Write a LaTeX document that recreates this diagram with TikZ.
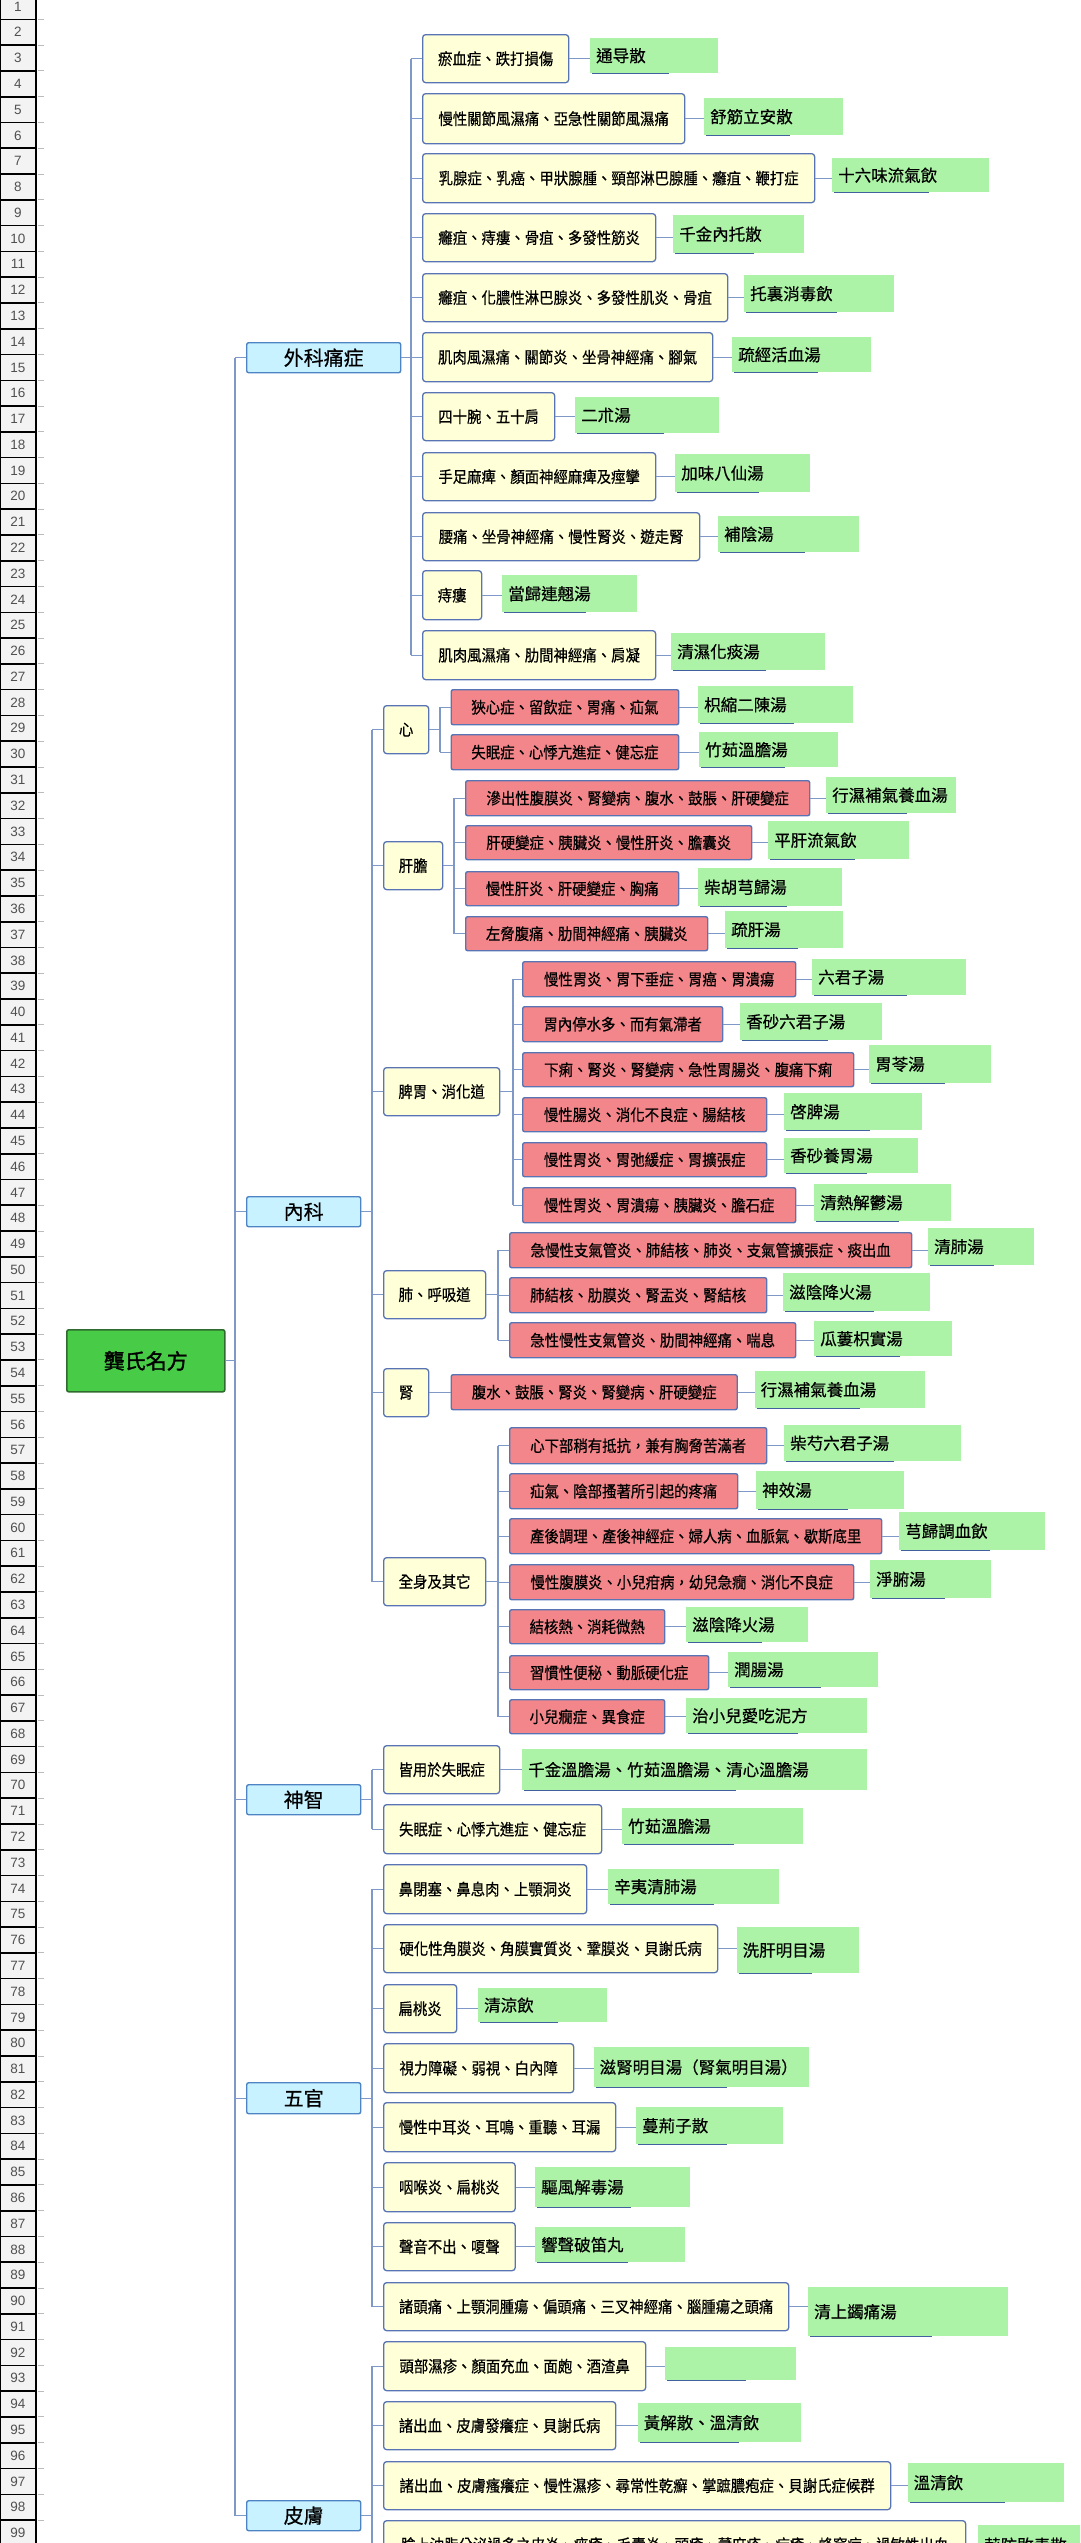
\documentclass[tikz,border=0pt]{standalone}
\usepackage{fontspec}
\newfontfamily\cjk[FakeBold=0.5]{Noto Sans CJK TC}
\newfontfamily\cjkn[FakeStretch=0.9,FakeBold=0.5]{Noto Sans CJK TC}
\newfontfamily\cjkb[FakeBold=1.5]{Noto Sans CJK TC}
\newfontfamily\numf{Liberation Sans}
\definecolor{yfill}{HTML}{FFFFD8}
\definecolor{rfill}{HTML}{F2868A}
\definecolor{gfill}{HTML}{ADF3A7}
\definecolor{catf}{HTML}{C8F2FF}
\definecolor{catb}{HTML}{4F84C4}
\definecolor{bordc}{HTML}{5874B4}
\definecolor{connc}{HTML}{7E98C8}
\definecolor{ulc}{HTML}{41609E}
\definecolor{rootf}{HTML}{48CC48}
\definecolor{rootb}{HTML}{2F6B2F}
\definecolor{rowf}{HTML}{F3F3F3}
\definecolor{numc}{HTML}{505050}
\definecolor{tickc}{HTML}{BBBBBB}
\newcommand\YB[6]{\node[ybox,minimum width=#4pt,minimum height=#5pt] (#1) at (#2,#3) {#6};}
\newcommand\RB[6]{\node[rbox,minimum width=#4pt,minimum height=#5pt] (#1) at (#2,#3) {#6};}
\newcommand\GB[6]{\node[gbox,minimum width=#4pt,minimum height=#5pt] (#1) at (#2,#3) {};
  \node[gtxt] (#1t) at ([xshift=6pt]#1.west) {#6};
  \draw[gline] ([xshift=2pt]#1.south west) -- ([xshift={0.62*#4pt}]#1.south west);}
\begin{document}
\begin{tikzpicture}[x=1pt,y=-1pt,
  conn/.style={draw=connc,line width=1.2pt},
  ybox/.style={anchor=north west,draw=bordc,fill=yfill,line width=1.3pt,rounded corners=3pt,inner sep=0pt,font=\cjkn\fontsize{16}{16}\selectfont},
  rbox/.style={anchor=north west,draw=bordc,fill=rfill,line width=1.4pt,rounded corners=2pt,inner sep=0pt,font=\cjkn\fontsize{16}{16}\selectfont},
  gbox/.style={anchor=north west,fill=gfill,draw=none,inner sep=0pt},
  gtxt/.style={anchor=west,inner sep=0pt,font=\cjk\fontsize{16.5}{16.5}\selectfont},
  gline/.style={draw=ulc,line width=1.2pt},
  cbox/.style={anchor=north west,draw=catb,fill=catf,line width=1.4pt,rounded corners=2pt,inner sep=0pt,font=\cjk\fontsize{20}{20}\selectfont},
  rootbox/.style={anchor=north west,draw=rootb,fill=rootf,line width=1.6pt,rounded corners=2pt,inner sep=0pt,font=\cjkb\fontsize{21}{21}\selectfont},
  rowbox/.style={draw=black,fill=rowf,line width=1.6pt},
  rownum/.style={font=\numf\fontsize{13.5}{13.5}\selectfont,text=numc,inner sep=0pt}]
\useasboundingbox (0,0) rectangle (1080,2543);
\clip (0,0) rectangle (1080,2543);
% row headers
\foreach \k in {1,...,99}{
  \pgfmathsetmacro\cy{6.5+(\k-1)*25.78}
  \draw[rowbox] (0,{\cy-12.89}) rectangle (36,{\cy+12.89});
  \node[rownum] (r\k) at (18,\cy) {\k};
  \draw[tickc,line width=1pt] (38,{\cy+12.89}) -- (44,{\cy+12.89});
}
% root and categories
\node[rootbox,minimum width=158pt,minimum height=62pt] (root) at (66,1329) {龔氏名方};
\node[cbox,minimum width=154pt,minimum height=30pt] (wk) at (246,342) {外科痛症};
\node[cbox,minimum width=114pt,minimum height=30pt] (nk) at (246,1196) {內科};
\node[cbox,minimum width=114pt,minimum height=30pt] (sk) at (246,1784) {神智};
\node[cbox,minimum width=114pt,minimum height=31pt] (fk) at (246,2082) {五官};
\node[cbox,minimum width=114pt,minimum height=30pt] (pk) at (246,2500) {皮膚};
% 外科痛症
\YB{w1}{422}{34}{146}{48}{瘀血症、跌打損傷}
\GB{wg1}{590}{38}{128}{35}{通导散}
\YB{w2}{422}{93}{262}{50}{慢性關節風濕痛、亞急性關節風濕痛}
\GB{wg2}{704}{98}{139}{37}{舒筋立安散}
\YB{w3}{422}{153}{392}{49}{乳腺症、乳癌、甲狀腺腫、頸部淋巴腺腫、癰疽、鞭打症}
\GB{wg3}{832}{158}{157}{34}{十六味流氣飲}
\YB{w4}{422}{213}{233}{48}{癰疽、痔瘻、骨疽、多發性筋炎}
\GB{wg4}{673}{215}{131}{38}{千金內托散}
\YB{w5}{422}{273}{305}{48}{癰疽、化膿性淋巴腺炎、多發性肌炎、骨疽}
\GB{wg5}{744}{275}{150}{37}{托裏消毒飲}
\YB{w6}{422}{332}{290}{49}{肌肉風濕痛、關節炎、坐骨神經痛、腳氣}
\GB{wg6}{732}{337}{139}{35}{疏經活血湯}
\YB{w7}{422}{392}{132}{48}{四十腕、五十肩}
\GB{wg7}{575}{397}{144}{36}{二朮湯}
\YB{w8}{422}{452}{233}{48}{手足麻痺、顏面神經麻痺及痙攣}
\GB{wg8}{675}{454}{135}{38}{加味八仙湯}
\YB{w9}{422}{512}{277}{48}{腰痛、坐骨神經痛、慢性腎炎、遊走腎}
\GB{wg9}{718}{516}{141}{36}{補陰湯}
\YB{w10}{422}{570}{59}{49}{痔瘻}
\GB{wg10}{502}{575}{135}{37}{當歸連翹湯}
\YB{w11}{422}{630}{233}{49}{肌肉風濕痛、肋間神經痛、肩凝}
\GB{wg11}{671}{633}{154}{37}{清濕化痰湯}
% 內科 second level
\YB{n1}{383}{705}{45}{48}{心}
\YB{n2}{383}{841}{59}{48}{肝膽}
\YB{n3}{383}{1067}{116}{48}{脾胃、消化道}
\YB{n4}{383}{1270}{102}{48}{肺、呼吸道}
\YB{n5}{383}{1368}{45}{48}{腎}
\YB{n6}{383}{1557}{102}{48}{全身及其它}
% 心
\RB{h1}{450.5}{689}{227.5}{35}{狹心症、留飲症、胃痛、疝氣}
\GB{hg1}{698}{686}{155}{37}{枳縮二陳湯}
\RB{h2}{450.5}{734}{227.5}{35}{失眠症、心悸亢進症、健忘症}
\GB{hg2}{699}{732}{139}{35}{竹茹溫膽湯}
% 肝膽
\RB{l1}{465}{780}{344}{35}{滲出性腹膜炎、腎變病、腹水、鼓脹、肝硬變症}
\GB{lg1}{826}{777}{130}{36}{行濕補氣養血湯}
\RB{l2}{465}{825}{286}{34}{肝硬變症、胰臟炎、慢性肝炎、膽囊炎}
\GB{lg2}{768}{821}{141}{38}{平肝流氣飲}
\RB{l3}{465}{871}{213}{34}{慢性肝炎、肝硬變症、胸痛}
\GB{lg3}{698}{868}{144}{38}{柴胡芎歸湯}
\RB{l4}{465}{916}{242}{34}{左脅腹痛、肋間神經痛、胰臟炎}
\GB{lg4}{725}{911}{118}{37}{疏肝湯}
% 脾胃
\RB{s1}{522}{961}{273}{35}{慢性胃炎、胃下垂症、胃癌、胃潰瘍}
\GB{sg1}{812}{959}{154}{36}{六君子湯}
\RB{s2}{522}{1006}{200}{35}{胃內停水多、而有氣滯者}
\GB{sg2}{740}{1003}{142}{37}{香砂六君子湯}
\RB{s3}{522}{1052}{331}{34}{下痢、腎炎、腎變病、急性胃腸炎、腹痛下痢}
\GB{sg3}{869}{1045}{122}{38}{胃苓湯}
\RB{s4}{522}{1097}{244}{34}{慢性腸炎、消化不良症、腸結核}
\GB{sg4}{784}{1093}{138}{37}{啓脾湯}
\RB{s5}{522}{1142}{244}{34}{慢性胃炎、胃弛緩症、胃擴張症}
\GB{sg5}{784}{1138}{134}{35}{香砂養胃湯}
\RB{s6}{522}{1187}{273}{35}{慢性胃炎、胃潰瘍、胰臟炎、膽石症}
\GB{sg6}{814}{1184}{137}{37}{清熱解鬱湯}
% 肺
\RB{p1}{509}{1232}{402}{35}{急慢性支氣管炎、肺結核、肺炎、支氣管擴張症、痰出血}
\GB{pg1}{928}{1228}{106}{37}{清肺湯}
\RB{p2}{509}{1277}{257}{35}{肺結核、肋膜炎、腎盂炎、腎結核}
\GB{pg2}{783}{1273}{147}{38}{滋陰降火湯}
\RB{p3}{509}{1322}{286}{35}{急性慢性支氣管炎、肋間神經痛、喘息}
\GB{pg3}{814}{1321}{138}{35}{瓜蔞枳實湯}
% 腎
\RB{k1}{450.5}{1374}{286}{35}{腹水、鼓脹、腎炎、腎變病、肝硬變症}
\GB{kg1}{754.5}{1371}{170}{37}{行濕補氣養血湯}
% 全身及其它
\RB{q1}{509}{1427}{257}{36}{心下部稍有抵抗，兼有胸脅苦滿者}
\GB{qg1}{784}{1425}{177}{36}{柴芍六君子湯}
\RB{q2}{509}{1473}{228}{35}{疝氣、陰部搔著所引起的疼痛}
\GB{qg2}{756}{1471}{148}{38}{神效湯}
\RB{q3}{509}{1518}{372}{35}{產後調理、產後神經症、婦人病、血脈氣、歇斯底里}
\GB{qg3}{899}{1512}{146}{38}{芎歸調血飲}
\RB{q4}{509}{1564}{344}{35}{慢性腹膜炎、小兒疳病，幼兒急癇、消化不良症}
\GB{qg4}{870}{1560}{121}{38}{淨腑湯}
\RB{q5}{509}{1609}{155}{34}{結核熱、消耗微熱}
\GB{qg5}{686}{1607}{122}{35}{滋陰降火湯}
\RB{q6}{509}{1655}{199}{34}{習慣性便秘、動脈硬化症}
\GB{qg6}{728}{1652}{150}{35}{潤腸湯}
\RB{q7}{509}{1699}{155}{34}{小兒癇症、異食症}
\GB{qg7}{686}{1698}{181}{35}{治小兒愛吃泥方}
% 神智
\YB{m1}{383}{1745}{116}{48}{皆用於失眠症}
\GB{mg1}{522}{1749}{345}{41}{千金溫膽湯、竹茹溫膽湯、清心溫膽湯}
\YB{m2}{383}{1804}{218}{49}{失眠症、心悸亢進症、健忘症}
\GB{mg2}{622}{1808}{181}{36}{竹茹溫膽湯}
% 五官
\YB{f1}{383}{1864}{203}{49}{鼻閉塞、鼻息肉、上顎洞炎}
\GB{fg1}{608}{1869}{171}{35}{辛夷清肺湯}
\YB{f2}{383}{1924}{334}{48}{硬化性角膜炎、角膜實質炎、鞏膜炎、貝謝氏病}
\GB{fg2}{736.5}{1927}{122.5}{46}{洗肝明目湯}
\YB{f3}{383}{1984}{73}{48}{扁桃炎}
\GB{fg3}{478}{1988}{129}{34}{清涼飲}
\YB{f4}{383}{2043}{190}{49}{視力障礙、弱視、白內障}
\GB{fg4}{593.5}{2047}{215.5}{40}{滋腎明目湯（腎氣明目湯）}
\YB{f5}{383}{2102}{232}{49}{慢性中耳炎、耳鳴、重聽、耳漏}
\GB{fg5}{636}{2107}{147}{37}{蔓荊子散}
\YB{f6}{383}{2162}{131.5}{49}{咽喉炎、扁桃炎}
\GB{fg6}{535}{2167}{155}{40}{驅風解毒湯}
\YB{f7}{383}{2222}{131.5}{48}{聲音不出、嗄聲}
\GB{fg7}{535}{2227}{150}{35}{響聲破笛丸}
\YB{f8}{383}{2282}{405}{48}{諸頭痛、上顎洞腫瘍、偏頭痛、三叉神經痛、腦腫瘍之頭痛}
\GB{fg8}{808}{2287}{200}{49}{清上蠲痛湯}
% 皮膚
\YB{d1}{383}{2341}{262}{49}{頭部濕疹、顏面充血、面皰、酒渣鼻}
\GB{dg1}{665}{2347}{131}{33}{}
\YB{d2}{383}{2401}{232}{48}{諸出血、皮膚發癢症、貝謝氏病}
\GB{dg2}{637.5}{2403}{163.5}{39}{黃解散、溫清飲}
\YB{d3}{383}{2461}{507}{48}{諸出血、皮膚瘙癢症、慢性濕疹、尋常性乾癬、掌蹠膿疱症、貝謝氏症候群}
\GB{dg3}{907.5}{2463}{156.5}{39}{溫清飲}
\YB{d4}{383}{2520}{582}{48}{臉上油脂分泌過多之皮炎、痤瘡、毛囊炎、頭瘡、蕁麻疹、疔瘡、蜂窩症、過敏性出血}
\GB{dg4}{978}{2525}{110}{40}{荊防敗毒散}
% ---- connectors ----
\coordinate (T) at (235,0);
\draw[conn] (root.east) -- (root.east -| T);
\draw[conn] (wk.west -| T) -- (pk.west -| T);
\foreach \c in {wk,nk,sk,fk,pk}{\draw[conn] (\c.west -| T) -- (\c.west);}
% 外科
\coordinate (tW) at (411,0);
\draw[conn] (wk.east) -- (wk.east -| tW);
\draw[conn] (w1.west -| tW) -- (w11.west -| tW);
\foreach \i in {1,...,11}{\draw[conn] (w\i.west -| tW) -- (w\i.west); \draw[conn] (w\i.east) -- (w\i.east -| wg\i.west);}
% 內科
\coordinate (tN) at (372,0);
\draw[conn] (nk.east) -- (nk.east -| tN);
\draw[conn] (n1.west -| tN) -- (n6.west -| tN);
\foreach \i in {1,...,6}{\draw[conn] (n\i.west -| tN) -- (n\i.west);}
\coordinate (tH) at (440,0);
\draw[conn] (n1.east) -- (n1.east -| tH);
\draw[conn] (h1.west -| tH) -- (h2.west -| tH);
\foreach \i in {1,2}{\draw[conn] (h\i.west -| tH) -- (h\i.west); \draw[conn] (h\i.east) -- (h\i.east -| hg\i.west);}
\coordinate (tL) at (454,0);
\draw[conn] (n2.east) -- (n2.east -| tL);
\draw[conn] (l1.west -| tL) -- (l4.west -| tL);
\foreach \i in {1,...,4}{\draw[conn] (l\i.west -| tL) -- (l\i.west); \draw[conn] (l\i.east) -- (l\i.east -| lg\i.west);}
\coordinate (tSp) at (513,0);
\draw[conn] (n3.east) -- (n3.east -| tSp);
\draw[conn] (s1.west -| tSp) -- (s6.west -| tSp);
\foreach \i in {1,...,6}{\draw[conn] (s\i.west -| tSp) -- (s\i.west); \draw[conn] (s\i.east) -- (s\i.east -| sg\i.west);}
\coordinate (tP) at (498,0);
\draw[conn] (n4.east) -- (n4.east -| tP);
\draw[conn] (p1.west -| tP) -- (p3.west -| tP);
\foreach \i in {1,...,3}{\draw[conn] (p\i.west -| tP) -- (p\i.west); \draw[conn] (p\i.east) -- (p\i.east -| pg\i.west);}
\draw[conn] (n5.east) -- (n5.east -| k1.west);
\draw[conn] (k1.east) -- (k1.east -| kg1.west);
\coordinate (tQ) at (498,0);
\draw[conn] (n6.east) -- (n6.east -| tQ);
\draw[conn] (q1.west -| tQ) -- (q7.west -| tQ);
\foreach \i in {1,...,7}{\draw[conn] (q\i.west -| tQ) -- (q\i.west); \draw[conn] (q\i.east) -- (q\i.east -| qg\i.west);}
% 神智
\coordinate (tS) at (372,0);
\draw[conn] (sk.east) -- (sk.east -| tS);
\draw[conn] (m1.west -| tS) -- (m2.west -| tS);
\foreach \i in {1,2}{\draw[conn] (m\i.west -| tS) -- (m\i.west); \draw[conn] (m\i.east) -- (m\i.east -| mg\i.west);}
% 五官
\coordinate (tF) at (372,0);
\draw[conn] (fk.east) -- (fk.east -| tF);
\draw[conn] (f1.west -| tF) -- (f8.west -| tF);
\foreach \i in {1,...,8}{\draw[conn] (f\i.west -| tF) -- (f\i.west); \draw[conn] (f\i.east) -- (f\i.east -| fg\i.west);}
% 皮膚
\coordinate (tD) at (372,0);
\draw[conn] (pk.east) -- (pk.east -| tD);
\draw[conn] (d1.west -| tD) -- (d4.west -| tD);
\foreach \i in {1,...,4}{\draw[conn] (d\i.west -| tD) -- (d\i.west); \draw[conn] (d\i.east) -- (d\i.east -| dg\i.west);}
\end{tikzpicture}
\end{document}
